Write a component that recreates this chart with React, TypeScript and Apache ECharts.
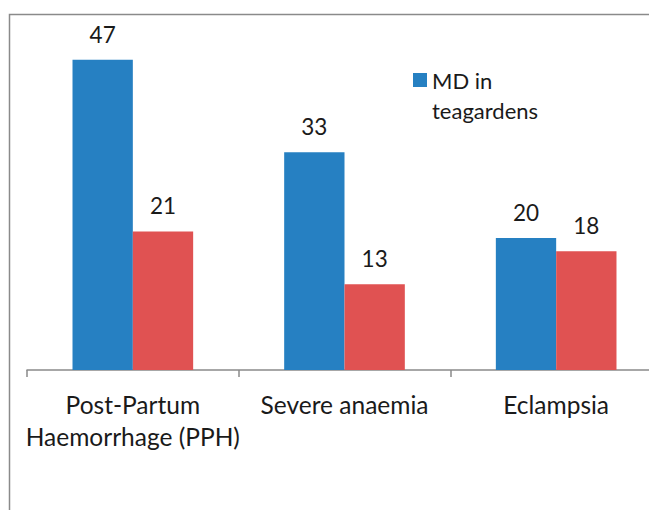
import React, { useEffect, useRef } from "react";
import * as echarts from "echarts";

const categories = ["Post-Partum\nHaemorrhage (PPH)", "Severe anaemia", "Eclampsia"];
const seriesNames = ["MD in teagardens", "Other"];
const legendLines = ["MD in", "teagardens"];
const mdTeagardens = [47, 33, 20];
const otherSeries = [21, 13, 18];

const FONT = "Lato";

export default function App() {
  const ref = useRef<HTMLDivElement>(null);
  useEffect(() => {
    if (!ref.current) return;
    const chart = echarts.init(ref.current, null, { renderer: "svg" });
    const labelStyle = {
      show: true,
      position: "top" as const,
      distance: 14,
      color: "#1a1a1a",
      fontFamily: FONT,
      fontSize: 22.5,
    };
    chart.setOption({
      animation: false,
      backgroundColor: "#ffffff",
      graphic: [
        {
          type: "rect",
          shape: { x: 9.5, y: 14.5, width: 760, height: 600 },
          style: { fill: "none", stroke: "#8a8a8a", lineWidth: 1.5 },
          silent: true,
          z: 0,
        },
      ],
      legend: {
        data: [seriesNames[0]],
        left: 413,
        top: 35,
        padding: 0,
        itemWidth: 14,
        itemHeight: 14,
        icon: "rect",
        formatter: () => "\n" + legendLines.join("\n"),
        textStyle: {
          fontFamily: FONT,
          fontSize: 22,
          color: "#1a1a1a",
          lineHeight: 30,
        },
      },
      grid: { left: 27, top: 40, width: 635, height: 330, containLabel: false },
      xAxis: {
        type: "category",
        data: categories,
        axisLine: { show: true, lineStyle: { color: "#8a8a8a", width: 1.5 } },
        axisTick: { show: true, alignWithLabel: false, length: 7, lineStyle: { color: "#8a8a8a", width: 1.5 } },
        axisLabel: {
          interval: 0,
          margin: 18,
          color: "#1a1a1a",
          fontFamily: FONT,
          fontSize: 24.5,
          lineHeight: 32,
        },
      },
      yAxis: {
        type: "value",
        min: 0,
        max: 50,
        show: false,
        splitLine: { show: false },
      },
      series: [
        {
          name: seriesNames[0],
          type: "bar",
          data: mdTeagardens,
          barGap: "0%",
          barCategoryGap: "43%",
          itemStyle: { color: "#2680C2" },
          label: labelStyle,
        },
        {
          name: seriesNames[1],
          type: "bar",
          data: otherSeries,
          itemStyle: { color: "#E05252" },
          label: labelStyle,
        },
      ],
    });
    return () => chart.dispose();
  }, []);
  return (
    <div
      style={{
        position: "fixed",
        left: 0,
        top: 0,
        width: 649,
        height: 510,
        overflow: "hidden",
        background: "#fff",
      }}
    >
      <div ref={ref} style={{ width: 720, height: 510 }} />
    </div>
  );
}
